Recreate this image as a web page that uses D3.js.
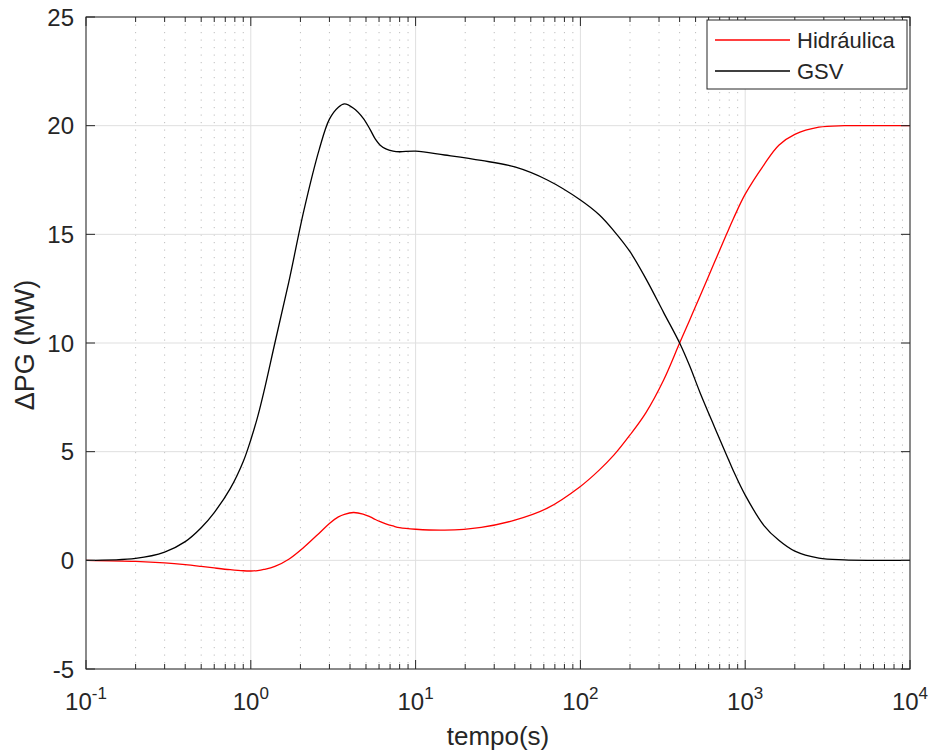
<!DOCTYPE html>
<html>
<head>
<meta charset="utf-8">
<script src="https://cdn.jsdelivr.net/npm/d3@7"></script>
<style>
  body { margin: 0; background: #fff; }
  svg { display: block; font-family: "Liberation Sans", Arial, Helvetica, sans-serif; }
  text { fill: #262626; }
</style>
</head>
<body>
<svg id="chart" width="931" height="756"></svg>
<script>
// time (s)
var tempo = [0.1, 0.2, 0.3, 0.4, 0.5, 0.6, 0.75, 0.9, 1.0, 1.1, 1.2, 1.4, 1.7, 2.1, 2.6, 3.0, 3.4, 3.7, 4.2, 4.8, 5.3, 5.7, 6.1, 6.6, 7.3, 8, 10, 15, 25, 40, 63, 100, 130, 160, 200, 250, 320, 400, 460, 530, 650, 770, 850, 1000, 1300, 1600, 2000, 2800, 4000, 6000, 10000];

var hidraulica = [0, -0.05, -0.12, -0.2, -0.28, -0.35, -0.43, -0.48, -0.49, -0.47, -0.42, -0.28, 0.05, 0.6, 1.25, 1.7, 2.0, 2.12, 2.2, 2.13, 2.0, 1.88, 1.78, 1.68, 1.58, 1.5, 1.43, 1.39, 1.52, 1.85, 2.4, 3.4, 4.15, 4.85, 5.77, 6.8, 8.3, 10.0, 11.05, 12.13, 13.7, 15.0, 15.74, 16.85, 18.2, 19.1, 19.6, 19.93, 20.0, 20.0, 20.0];

var gsv = [0, 0.09, 0.38, 0.86, 1.5, 2.2, 3.3, 4.55, 5.55, 6.6, 7.75, 10.0, 12.8, 16.1, 18.9, 20.3, 20.85, 21.0, 20.8, 20.35, 19.82, 19.38, 19.1, 18.93, 18.83, 18.8, 18.83, 18.65, 18.4, 18.1, 17.5, 16.58, 15.9, 15.15, 14.2, 12.95, 11.4, 10.0, 8.95, 7.75, 6.15, 4.85, 4.1, 3.0, 1.6, 0.92, 0.42, 0.1, 0.02, 0, 0];

var yTicks = [-5, 0, 5, 10, 15, 20, 25];
var xDecades = [-1, 0, 1, 2, 3, 4];

var series = [
    { name: "Hidráulica", color: "#ff0000", values: hidraulica },
    { name: "GSV", color: "#000000", values: gsv }
];

var margin = { left: 86, right: 21, top: 17, bottom: 87 },
    W = 931, H = 756,
    w = W - margin.left - margin.right,
    h = H - margin.top - margin.bottom;

var svg = d3.select("#chart");
var g = svg.append("g").attr("transform", "translate(" + margin.left + "," + margin.top + ")");

var x = d3.scaleLog().domain([0.1, 10000]).range([0, w]);
var y = d3.scaleLinear().domain([-5, 25]).range([h, 0]);

// minor log ticks (2..9 for each decade)
var minor = [];
xDecades.slice(0, -1).forEach(function (e) {
    for (var k = 2; k <= 9; k++) minor.push(k * Math.pow(10, e));
});
var major = xDecades.map(function (e) { return Math.pow(10, e); });

// grid
g.selectAll(".minorgrid").data(minor).enter().append("line")
    .attr("x1", function (d) { return x(d); }).attr("x2", function (d) { return x(d); })
    .attr("y1", 0).attr("y2", h)
    .attr("stroke", "#bdbdbd").attr("stroke-width", 1)
    .attr("stroke-dasharray", "1.2,6.3");

g.selectAll(".xgrid").data(major).enter().append("line")
    .attr("x1", function (d) { return x(d); }).attr("x2", function (d) { return x(d); })
    .attr("y1", 0).attr("y2", h)
    .attr("stroke", "#dfdfdf").attr("stroke-width", 1);

g.selectAll(".ygrid").data(yTicks).enter().append("line")
    .attr("x1", 0).attr("x2", w)
    .attr("y1", function (d) { return y(d); }).attr("y2", function (d) { return y(d); })
    .attr("stroke", "#dfdfdf").attr("stroke-width", 1);

// curves
var line = d3.line()
    .x(function (d, i) { return x(tempo[i]); })
    .y(function (d) { return y(d); })
    .curve(d3.curveCatmullRom.alpha(0.5));

g.selectAll(".serie").data(series).enter().append("path")
    .attr("d", function (s) { return line(s.values); })
    .attr("fill", "none")
    .attr("stroke", function (s) { return s.color; })
    .attr("stroke-width", 1.3);

// box + inward ticks
var axisColor = "#262626";
g.append("rect").attr("width", w).attr("height", h)
    .attr("fill", "none").attr("stroke", axisColor).attr("stroke-width", 1);

function tickX(vals, len) {
    [0, h].forEach(function (yy) {
        g.selectAll(null).data(vals).enter().append("line")
            .attr("x1", function (d) { return x(d); }).attr("x2", function (d) { return x(d); })
            .attr("y1", yy).attr("y2", yy === 0 ? len : h - len)
            .attr("stroke", axisColor);
    });
}
tickX(major, 9);
tickX(minor, 5);

[0, w].forEach(function (xx) {
    g.selectAll(null).data(yTicks).enter().append("line")
        .attr("x1", xx).attr("x2", xx === 0 ? 9 : w - 9)
        .attr("y1", function (d) { return y(d); }).attr("y2", function (d) { return y(d); })
        .attr("stroke", axisColor);
});

// tick labels
g.selectAll(".ylab").data(yTicks).enter().append("text")
    .attr("x", -12).attr("y", function (d) { return y(d); })
    .attr("dy", "0.36em")
    .attr("text-anchor", "end")
    .style("font-size", "24px")
    .text(function (d) { return d; });

var xl = g.selectAll(".xlab").data(xDecades).enter().append("text")
    .attr("x", function (d) { return x(Math.pow(10, d)); })
    .attr("y", h + 41)
    .attr("text-anchor", "middle")
    .style("font-size", "24px");
xl.append("tspan").text("10");
xl.append("tspan").attr("dy", -11).style("font-size", "17px").text(function (d) { return d; });

// axis titles
g.append("text")
    .attr("x", w / 2).attr("y", h + 76)
    .attr("text-anchor", "middle")
    .style("font-size", "26px")
    .text("tempo(s)");

g.append("text")
    .attr("transform", "translate(" + (-52) + "," + (h / 2 + 2) + ") rotate(-90)")
    .attr("text-anchor", "middle")
    .style("font-size", "27px")
    .text("\u0394PG (MW)");

// legend
var lg = g.append("g").attr("transform", "translate(" + (w - 203) + ",3)");
lg.append("rect").attr("width", 200).attr("height", 69)
    .attr("fill", "#fff").attr("stroke", axisColor).attr("stroke-width", 1);
var item = lg.selectAll(".item").data(series).enter().append("g")
    .attr("transform", function (d, i) { return "translate(0," + (20 + i * 31) + ")"; });
item.append("line").attr("x1", 8).attr("x2", 83)
    .attr("stroke", function (d) { return d.color; }).attr("stroke-width", 1.3);
item.append("text").attr("x", 90).attr("dy", "0.36em")
    .style("font-size", "22px")
    .text(function (d) { return d.name; });
</script>
</body>
</html>
